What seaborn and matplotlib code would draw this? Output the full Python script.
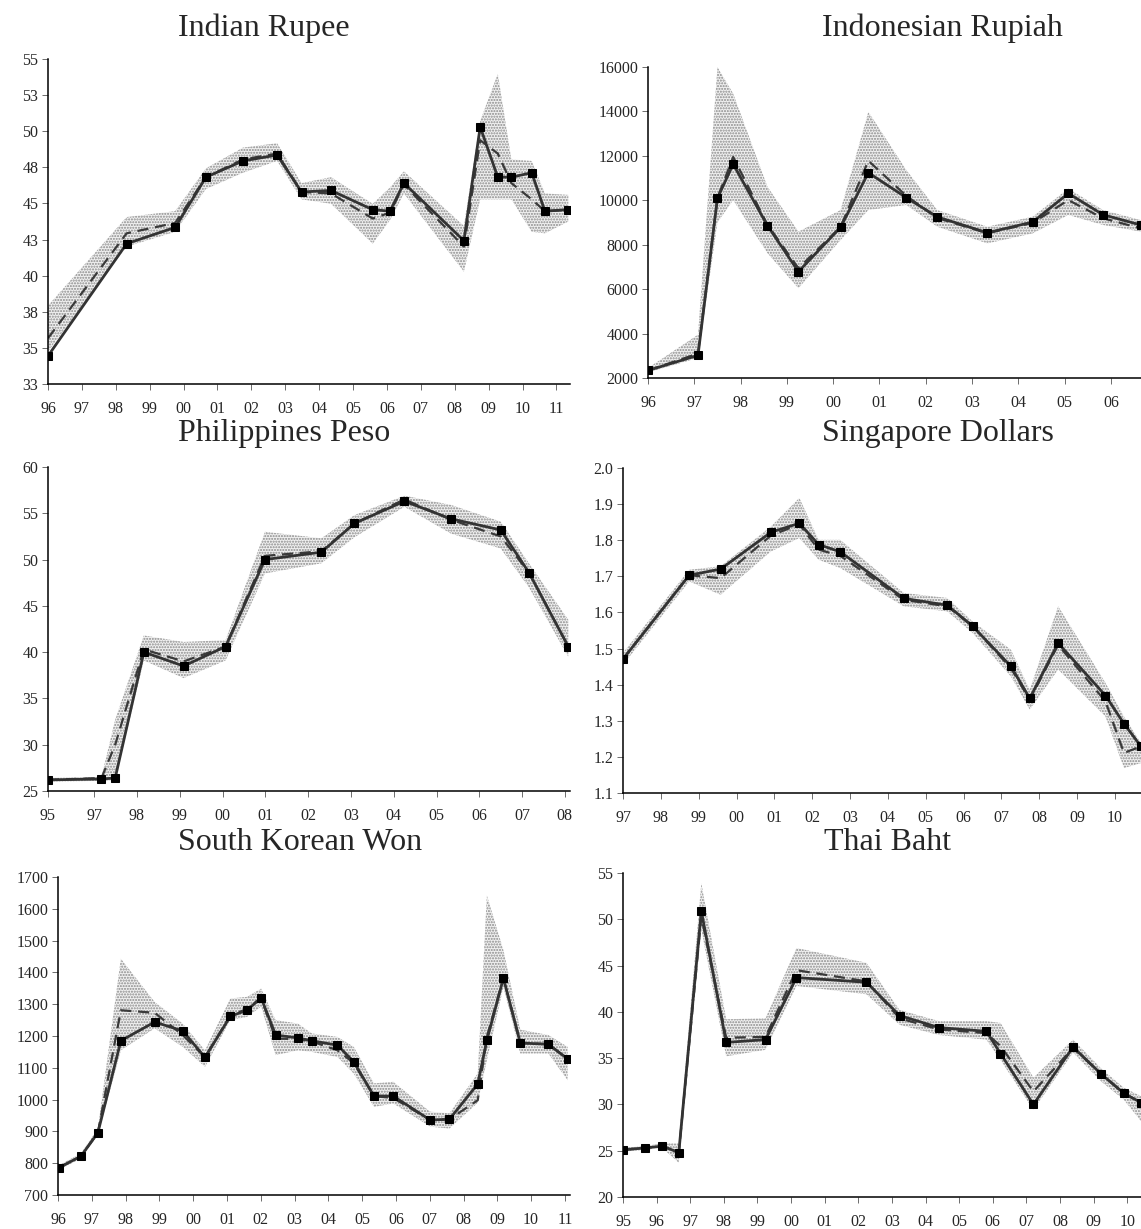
import numpy as np
import pandas as pd
import seaborn as sns
import matplotlib.pyplot as plt
from matplotlib.ticker import FormatStrFormatter

# ---- data (x = position along each panel's year axis, one unit per tick) ----
inr_x = [0, 2.32, 3.75, 4.66, 5.75, 6.76, 7.48, 8.35, 9.58, 10.09, 10.50, 12.27, 12.75, 13.27, 13.67, 14.27, 14.66, 15.35]
inr_actual = [34.9, 42.5, 43.6, 47.0, 48.1, 48.5, 46.0, 46.1, 44.8, 44.7, 46.6, 42.7, 50.4, 47.0, 47.0, 47.3, 44.7, 44.8]
inr_forecast = [36.1, 43.2, 43.9, 47.0, 48.2, 48.6, 46.0, 45.9, 44.2, 44.6, 46.5, 42.3, 49.5, 48.6, 46.6, 45.5, 44.7, 44.8]
inr_upper = [38.3, 44.3, 44.7, 47.6, 49.0, 49.3, 46.6, 47.0, 45.2, 46.3, 47.4, 43.7, 50.8, 54.0, 48.2, 48.1, 45.9, 45.8]
inr_lower = [35.2, 42.3, 43.3, 46.2, 47.3, 48.1, 45.5, 45.2, 42.5, 44.1, 45.9, 40.6, 45.5, 45.5, 45.5, 43.3, 43.2, 44.0]
inr_years = ["96", "97", "98", "99", "00", "01", "02", "03", "04", "05", "06", "07", "08", "09", "10", "11"]

idr_x = [0, 1.08, 1.50, 1.84, 2.58, 3.25, 4.16, 4.76, 5.58, 6.25, 7.33, 8.31, 9.08, 9.83, 10.64]
idr_actual = [2340, 3020, 10090, 11630, 8860, 6790, 8780, 11240, 10120, 9250, 8540, 9020, 10310, 9350, 8890]
idr_forecast = [2340, 3100, 10100, 11950, 8900, 6940, 8800, 11780, 10200, 9200, 8520, 8980, 10010, 9190, 8740]
idr_upper = [2450, 3950, 16000, 14800, 10610, 8590, 9560, 13980, 11360, 9560, 8810, 9260, 10530, 9560, 9110]
idr_lower = [2250, 2900, 9000, 10010, 7620, 6040, 8210, 9560, 9790, 8810, 8060, 8510, 9340, 8890, 8590]
idr_years = ["96", "97", "98", "99", "00", "01", "02", "03", "04", "05", "06"]

php_x = [0, 1.25, 1.57, 2.24, 3.17, 4.15, 5.07, 6.39, 7.16, 8.33, 9.42, 10.58, 11.24, 12.16]
php_actual = [26.2, 26.3, 26.4, 40.0, 38.5, 40.6, 50.0, 50.8, 53.9, 56.3, 54.4, 53.2, 48.6, 40.6]
php_forecast = [26.2, 26.4, 30.0, 40.3, 39.0, 40.6, 50.4, 50.9, 53.9, 56.5, 54.3, 52.5, 48.6, 40.6]
php_upper = [26.4, 26.5, 32.7, 41.8, 41.1, 41.3, 53.0, 52.3, 54.8, 56.9, 55.9, 54.1, 49.6, 43.5]
php_lower = [26.0, 26.1, 26.2, 39.1, 37.2, 39.1, 48.5, 49.6, 52.4, 55.7, 52.8, 51.2, 47.0, 39.5]
php_years = ["95", "97", "98", "99", "00", "01", "02", "03", "04", "05", "06", "07", "08"]

sgd_x = [0, 1.75, 2.58, 3.91, 4.66, 5.17, 5.74, 7.42, 8.57, 9.24, 10.25, 10.75, 11.50, 12.75, 13.24, 13.69]
sgd_actual = [1.471, 1.703, 1.720, 1.822, 1.847, 1.788, 1.768, 1.639, 1.620, 1.562, 1.451, 1.362, 1.515, 1.370, 1.292, 1.229]
sgd_forecast = [1.471, 1.703, 1.695, 1.813, 1.844, 1.774, 1.757, 1.635, 1.617, 1.562, 1.446, 1.358, 1.510, 1.354, 1.211, 1.229]
sgd_upper = [1.488, 1.718, 1.728, 1.838, 1.917, 1.801, 1.801, 1.654, 1.640, 1.575, 1.497, 1.386, 1.617, 1.405, 1.312, 1.238]
sgd_lower = [1.455, 1.686, 1.649, 1.769, 1.806, 1.746, 1.723, 1.617, 1.603, 1.543, 1.423, 1.331, 1.442, 1.312, 1.169, 1.183]
sgd_years = ["97", "98", "99", "00", "01", "02", "03", "04", "05", "06", "07", "08", "09", "10"]

krw_x = [0.03, 0.68, 1.18, 1.86, 2.86, 3.69, 4.35, 5.10, 5.59, 6.01, 6.44, 7.10, 7.51, 8.27, 8.75,
         9.35, 9.92, 11.01, 11.58, 12.42, 12.69, 13.18, 13.68, 14.51, 15.08]
krw_actual = [786, 822, 896, 1185, 1244, 1216, 1133, 1262, 1281, 1320, 1203, 1194, 1185, 1171, 1119,
              1011, 1011, 936, 938, 1049, 1187, 1382, 1178, 1174, 1128]
krw_forecast = [786, 822, 896, 1281, 1273, 1203, 1133, 1265, 1285, 1320, 1192, 1190, 1183, 1155, 1115,
                1011, 1005, 936, 938, 998, 1197, 1382, 1178, 1174, 1128]
krw_upper = [794, 831, 909, 1443, 1307, 1239, 1155, 1318, 1323, 1349, 1250, 1239, 1208, 1197, 1166,
             1051, 1056, 962, 957, 1082, 1642, 1470, 1220, 1203, 1166]
krw_lower = [779, 815, 888, 1155, 1224, 1166, 1103, 1250, 1260, 1292, 1140, 1155, 1150, 1134, 1082,
             977, 988, 915, 909, 990, 1124, 1354, 1145, 1145, 1061]
krw_years = ["96", "97", "98", "99", "00", "01", "02", "03", "04", "05", "06", "07", "08", "09", "10", "11"]

thb_x = [0, 0.66, 1.17, 1.66, 2.33, 3.07, 4.24, 5.16, 7.24, 8.23, 9.40, 10.81, 11.23, 12.21, 13.39, 14.22, 14.90, 15.41]
thb_actual = [25.1, 25.3, 25.5, 24.8, 50.9, 36.7, 37.0, 43.7, 43.2, 39.6, 38.3, 37.9, 35.5, 30.0, 36.2, 33.3, 31.2, 30.2]
thb_forecast = [25.1, 25.3, 25.5, 24.8, 50.3, 37.2, 37.3, 44.5, 43.3, 39.3, 38.1, 37.7, 36.3, 31.4, 36.1, 33.3, 31.2, 30.2]
thb_upper = [25.3, 25.5, 25.8, 25.8, 53.9, 39.2, 39.3, 46.9, 45.3, 40.2, 39.0, 39.0, 38.8, 32.9, 37.0, 33.9, 31.8, 30.9]
thb_lower = [24.9, 25.1, 25.3, 23.7, 48.9, 35.2, 35.9, 42.8, 41.9, 38.6, 37.5, 37.0, 34.8, 29.4, 35.6, 32.5, 30.5, 28.2]
thb_years = ["95", "96", "97", "98", "99", "00", "01", "02", "03", "04", "05", "06", "07", "08", "09", "10"]

W, H = 1141, 1229

sns.set_style("ticks")
plt.rcParams["font.family"] = ["Liberation Serif", "DejaVu Serif"]
plt.rcParams["hatch.linewidth"] = 1.0


def px_axes(fig, left, right, top, bottom):
    return fig.add_axes([left / W, 1 - bottom / H, (right - left) / W, (bottom - top) / H])


def draw_panel(ax, x, actual, forecast, upper, lower, years, tickpos, yticks, xmax, yfmt):
    df = pd.DataFrame({"x": x, "actual": actual, "forecast": forecast})
    ax.fill_between(x, lower, upper, facecolor="#f0f0f0", edgecolor="#8a8a8a",
                    hatch="......", linewidth=0, zorder=1)
    sns.lineplot(data=df, x="x", y="forecast", ax=ax, color="#3a3a3a", linewidth=1.6,
                 dashes=False, linestyle=(0, (5, 3)), zorder=2)
    sns.lineplot(data=df, x="x", y="actual", ax=ax, color="#333333", linewidth=2.0,
                 marker="s", markersize=5.5, markerfacecolor="black", markeredgecolor="black",
                 zorder=3)
    ax.set_xlim(0, xmax)
    ax.set_ylim(yticks[0], yticks[-1])
    ax.set_xticks(tickpos)
    ax.set_xticklabels(years)
    ax.set_yticks(yticks)
    ax.yaxis.set_major_formatter(FormatStrFormatter(yfmt))
    ax.set_xlabel("")
    ax.set_ylabel("")
    for s in ["top", "right"]:
        ax.spines[s].set_visible(False)
    for s in ["left", "bottom"]:
        ax.spines[s].set_color("black")
        ax.spines[s].set_linewidth(1.1)
    ax.tick_params(axis="both", labelsize=11.5, length=4, width=0.6, color="#555555",
                   direction="out", pad=3)
    ax.tick_params(axis="x", pad=8)


fig = plt.figure(figsize=(W / 100, H / 100), dpi=100)

ax1 = px_axes(fig, 48, 570, 59, 384)
draw_panel(ax1, inr_x, inr_actual, inr_forecast, inr_upper, inr_lower, inr_years,
           list(range(len(inr_years))), np.linspace(33, 55, 10), 15.4, "%.0f")

ax2 = px_axes(fig, 648, 1141, 67, 378)
draw_panel(ax2, idr_x, idr_actual, idr_forecast, idr_upper, idr_lower, idr_years,
           list(range(len(idr_years))), np.arange(2000, 16001, 2000), 10.65, "%.0f")

ax3 = px_axes(fig, 48, 570, 467, 791)
draw_panel(ax3, php_x, php_actual, php_forecast, php_upper, php_lower, php_years,
           [0] + [1.08 + i for i in range(len(php_years) - 1)], np.arange(25, 61, 5), 12.2, "%.0f")

ax4 = px_axes(fig, 623, 1141, 468, 793)
draw_panel(ax4, sgd_x, sgd_actual, sgd_forecast, sgd_upper, sgd_lower, sgd_years,
           list(range(len(sgd_years))), np.round(np.arange(1.1, 2.01, 0.1), 1), 13.69, "%.1f")

ax5 = px_axes(fig, 58, 570, 877, 1195)
draw_panel(ax5, krw_x, krw_actual, krw_forecast, krw_upper, krw_lower, krw_years,
           list(range(len(krw_years))), np.arange(700, 1701, 100), 15.15, "%.0f")

ax6 = px_axes(fig, 623, 1141, 873, 1197)
draw_panel(ax6, thb_x, thb_actual, thb_forecast, thb_upper, thb_lower, thb_years,
           list(range(len(thb_years))), np.arange(20, 56, 5), 15.41, "%.0f")

titles = [("Indian Rupee", 178, 28), ("Indonesian Rupiah", 822, 28),
          ("Philippines Peso", 178, 434), ("Singapore Dollars", 822, 434),
          ("South Korean Won", 178, 843), ("Thai Baht", 824, 843)]
for t, tx, ty in titles:
    fig.text(tx / W, 1 - ty / H, t, ha="left", va="center", fontsize=23)

fig.savefig("out.png", dpi=100)
